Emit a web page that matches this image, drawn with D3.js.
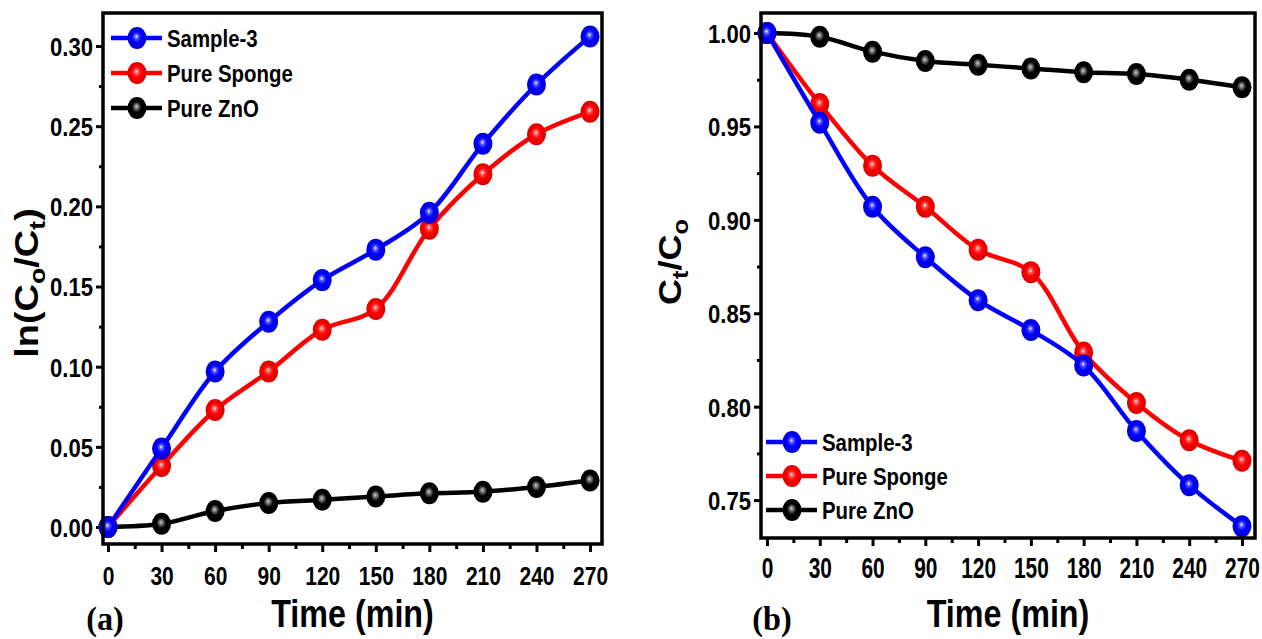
<!DOCTYPE html>
<html>
<head>
<meta charset="utf-8">
<script src="https://cdn.jsdelivr.net/npm/d3@7"></script>
<style>
  body { margin: 0; background: #fff; }
  svg { display: block; }
  text { font-family: "Liberation Sans", Arial, sans-serif; font-weight: bold; fill: #000; }
</style>
</head>
<body>
<div id="chart"></div>
<script>
const width = 1262;
const height = 639;

// data
const times = [0, 30, 60, 90, 120, 150, 180, 210, 240, 270];
const timeTicks = [0, 30, 60, 90, 120, 150, 180, 210, 240, 270];
const timeMinor = [15, 45, 75, 105, 135, 165, 195, 225, 255];
const seriesNames = ["Sample-3", "Pure Sponge", "Pure ZnO"];
const seriesColors = ["#0000ff", "#ff0000", "#000000"];

const lnSample3 = [0, 0.049, 0.097, 0.128, 0.154, 0.173, 0.196, 0.239, 0.276, 0.306];
const lnSponge  = [0, 0.038, 0.073, 0.097, 0.123, 0.136, 0.186, 0.220, 0.245, 0.259];
const lnZnO     = [0, 0.002, 0.010, 0.015, 0.017, 0.019, 0.021, 0.022, 0.025, 0.029];
const lnTicks = [0, 0.05, 0.10, 0.15, 0.20, 0.25, 0.30];
const lnMinor = [0.025, 0.075, 0.125, 0.175, 0.225, 0.275];

const ctSample3 = [1.0, 0.952, 0.907, 0.880, 0.857, 0.841, 0.822, 0.787, 0.758, 0.736];
const ctSponge  = [1.0, 0.962, 0.929, 0.907, 0.884, 0.872, 0.829, 0.802, 0.782, 0.771];
const ctZnO     = [1.0, 0.998, 0.990, 0.985, 0.983, 0.981, 0.979, 0.978, 0.975, 0.971];
const ctTicks = [0.75, 0.80, 0.85, 0.90, 0.95, 1.00];
const ctMinor = [0.775, 0.825, 0.875, 0.925, 0.975];

// the source figure is squeezed horizontally, so text is too
const SX = 0.85;

const svg = d3.select("#chart")
  .append("svg")
  .attr("width", width)
  .attr("height", height);

svg.append("rect").attr("width", width).attr("height", height).attr("fill", "#fff");

// shiny ball gradients for the markers
const defs = svg.append("defs");
seriesColors.forEach((c, i) => {
  const g = defs.append("radialGradient")
    .attr("id", "ball" + i)
    .attr("cx", "50%").attr("cy", "50%").attr("r", "55%")
    .attr("fx", "47%").attr("fy", "42%");
  const light = i === 2 ? "#cfcfcf" : "#ffffff";
  const dark = d3.color(c).darker(i === 2 ? 0 : 0.6);
  g.append("stop").attr("offset", "0%").attr("stop-color", light);
  g.append("stop").attr("offset", "18%").attr("stop-color", i === 2 ? "#777" : d3.interpolateRgb(c, "#fff")(0.35));
  g.append("stop").attr("offset", "45%").attr("stop-color", c);
  g.append("stop").attr("offset", "100%").attr("stop-color", dark);
});

function addText(parent, x, y, str, size, anchor, sx = SX) {
  return parent.append("g")
    .attr("transform", `translate(${x},${y})`)
    .append("text")
    .attr("transform", `scale(${sx},1)`)
    .attr("text-anchor", anchor)
    .style("font-size", size + "px")
    .text(str);
}

function marker(parent, x, y, i) {
  parent.append("ellipse")
    .attr("cx", x).attr("cy", y)
    .attr("rx", 9.5).attr("ry", 11)
    .attr("fill", `url(#ball${i})`);
}

function drawPanel(cfg) {
  const { x0, x1, y0, y1 } = cfg.frame;
  const x = d3.scaleLinear().domain(cfg.xDomain).range([x0, x1]);
  const y = d3.scaleLinear().domain(cfg.yDomain).range([y1, y0]);
  const g = svg.append("g");

  // y axis, major + minor
  const yAx = g.append("g").attr("transform", `translate(${x0},0)`)
    .call(d3.axisLeft(y).tickValues(cfg.yTicks).tickSize(7).tickSizeOuter(0).tickFormat(d3.format(".2f")));
  g.append("g").attr("transform", `translate(${x0},0)`)
    .call(d3.axisLeft(y).tickValues(cfg.yMinor).tickSize(4).tickSizeOuter(0).tickFormat(""));

  // x axis, major + minor
  const xAx = g.append("g").attr("transform", `translate(0,${y1})`)
    .call(d3.axisBottom(x).tickValues(timeTicks).tickSize(8).tickSizeOuter(0));
  g.append("g").attr("transform", `translate(0,${y1})`)
    .call(d3.axisBottom(x).tickValues(timeMinor).tickSize(5).tickSizeOuter(0).tickFormat(""));

  g.selectAll(".domain").remove();
  g.selectAll(".tick line").attr("stroke", "#000").attr("stroke-width", 3);

  yAx.selectAll(".tick text")
    .attr("x", -10 / SX).attr("dy", "0.36em")
    .attr("transform", `scale(${SX},1)`)
    .style("font-size", "26px").style("font-family", null);
  xAx.selectAll(".tick text")
    .attr("y", cfg.xLabelY).attr("dy", 0)
    .attr("transform", `scale(${cfg.xTickSX},1)`)
    .style("font-size", cfg.xTickSize + "px").style("font-family", null);
  g.selectAll("g[fill='none']").attr("font-family", null).attr("font-size", null);

  // series, ZnO first so Sample-3 ends up on top
  const line = d3.line()
    .x((d, i) => x(times[i]))
    .y(d => y(d))
    .curve(d3.curveCatmullRom.alpha(0.5));

  [2, 1, 0].forEach(i => {
    const vals = cfg.series[i];
    g.append("path")
      .datum(vals)
      .attr("d", line)
      .attr("fill", "none")
      .attr("stroke", seriesColors[i])
      .attr("stroke-width", 4.5);
    vals.forEach((v, j) => marker(g, x(times[j]), y(v), i));
  });

  // frame
  g.append("rect")
    .attr("x", x0).attr("y", y0)
    .attr("width", x1 - x0).attr("height", y1 - y0)
    .attr("fill", "none").attr("stroke", "#000").attr("stroke-width", 3.5);

  // legend
  const lg = g.append("g");
  seriesNames.forEach((name, i) => {
    const ly = cfg.legend.y + i * cfg.legend.step;
    const lx = cfg.legend.x;
    lg.append("line")
      .attr("x1", lx - 26).attr("x2", lx + 25)
      .attr("y1", ly).attr("y2", ly)
      .attr("stroke", seriesColors[i]).attr("stroke-width", 4.5);
    marker(lg, lx, ly, i);
    addText(lg, lx + 30, ly + 8.5, name, 24, "start");
  });

  // axis titles
  addText(g, (x0 + x1) / 2, 627, "Time (min)", 38, "middle");

  const yl = g.append("g")
    .attr("transform", `translate(${cfg.yLabel.x},${cfg.yLabel.y}) rotate(-90) scale(1,${SX})`)
    .append("text")
    .attr("text-anchor", "middle")
    .style("font-size", cfg.yLabel.size + "px");
  cfg.yLabel.parts.forEach(p => {
    const t = yl.append("tspan").text(p.t);
    if (p.sub) t.attr("dy", 8).style("font-size", "0.7em");
    if (p.up) t.attr("dy", -8);
  });

  // panel letter
  g.append("g")
    .attr("transform", `translate(${cfg.letter.x},630)`)
    .append("text")
    .attr("transform", "scale(0.95,1)")
    .attr("text-anchor", "middle")
    .style("font-family", "'Liberation Serif', 'Times New Roman', serif")
    .style("font-size", "34px")
    .text(cfg.letter.t);
}

drawPanel({
  frame: { x0: 103, x1: 602, y0: 13, y1: 544 },
  xDomain: [-2.8, 276.7],
  yDomain: [-0.0106, 0.3206],
  yTicks: lnTicks,
  yMinor: lnMinor,
  series: [lnSample3, lnSponge, lnZnO],
  xLabelY: 41,
  xTickSize: 25,
  xTickSX: 0.84,
  legend: { x: 137, y: 38, step: 35 },
  yLabel: {
    x: 38, y: 283, size: 38,
    parts: [{ t: "ln(C" }, { t: "o", sub: true }, { t: "/C", up: true }, { t: "t", sub: true }, { t: ")", up: true }]
  },
  letter: { x: 105, t: "(a)" }
});

drawPanel({
  frame: { x0: 761, x1: 1255, y0: 13, y1: 538 },
  xDomain: [-3.4, 277.4],
  yDomain: [0.7297, 1.0107],
  yTicks: ctTicks,
  yMinor: ctMinor,
  series: [ctSample3, ctSponge, ctZnO],
  xLabelY: 40,
  xTickSize: 29,
  xTickSX: 0.72,
  legend: { x: 792, y: 442, step: 34 },
  yLabel: {
    x: 681, y: 262, size: 36,
    parts: [{ t: "C" }, { t: "t", sub: true }, { t: "/C", up: true }, { t: "o", sub: true }]
  },
  letter: { x: 772, t: "(b)" }
});
</script>
</body>
</html>
